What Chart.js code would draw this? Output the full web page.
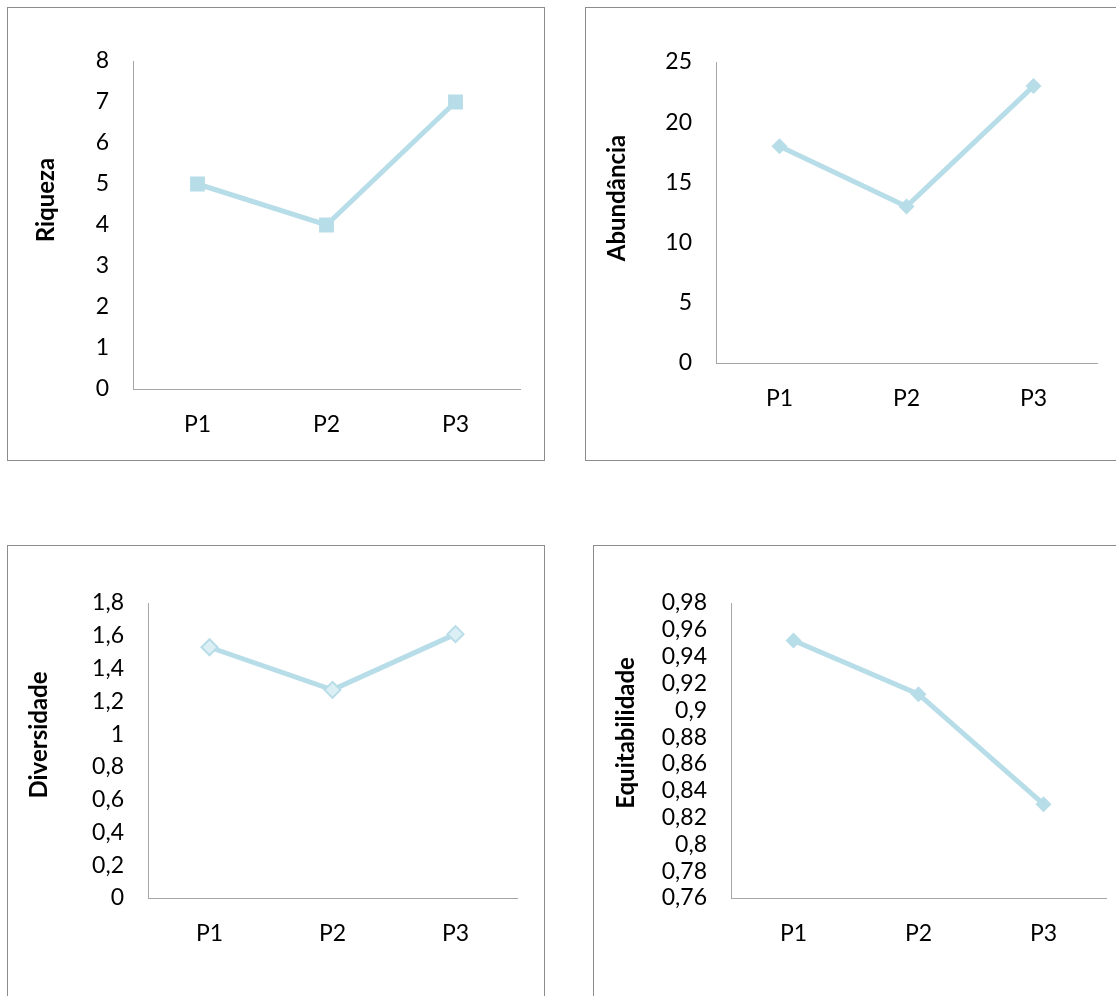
<!DOCTYPE html>
<html>
<head>
<meta charset="utf-8">
<script src="https://cdn.jsdelivr.net/npm/chart.js@4.4.1/dist/chart.umd.min.js"></script>
<style>
body { margin: 0; background: #fff; width: 1116px; height: 996px; overflow: hidden; position: relative; }
.box { position: absolute; border: 1px solid #8c8c8c; box-sizing: border-box; background: #fff; }
.box canvas { position: absolute; left: 0; top: 0; }
</style>
</head>
<body>
<div class="box" style="left:7px;top:7px;width:538px;height:454px"><canvas id="riqueza" width="536" height="452"></canvas></div>
<div class="box" style="left:585px;top:7px;width:535px;height:454px"><canvas id="abundancia" width="533" height="452"></canvas></div>
<div class="box" style="left:7px;top:545px;width:538px;height:466px"><canvas id="diversidade" width="536" height="464"></canvas></div>
<div class="box" style="left:593px;top:545px;width:527px;height:466px"><canvas id="equitabilidade" width="525" height="464"></canvas></div>
<script>
// pontos de coleta
const pontos = ["P1", "P2", "P3"]

const riqueza = [5, 4, 7]
const abundancia = [18, 13, 23]
const diversidade = [1.53, 1.27, 1.61]
const equitabilidade = [0.952, 0.912, 0.830]

const ticksRiqueza = [0, 1, 2, 3, 4, 5, 6, 7, 8]
const ticksAbundancia = [0, 5, 10, 15, 20, 25]
const ticksDiversidade = [0, 0.2, 0.4, 0.6, 0.8, 1, 1.2, 1.4, 1.6, 1.8]
const ticksEquitabilidade = [0.76, 0.78, 0.8, 0.82, 0.84, 0.86, 0.88, 0.9, 0.92, 0.94, 0.96, 0.98]

const azul = 'rgb(183, 221, 232)'
const azulClaro = 'rgb(220, 239, 244)'

Chart.defaults.font.family = 'Lato'
Chart.defaults.font.size = 23
Chart.defaults.color = '#000'

// titulo do eixo y desenhado na posicao do excel
const yTitle = {
    id: 'yTitle',
    afterDraw(chart, args, opts) {
        let ctx = chart.ctx
        ctx.save()
        ctx.translate(opts.x, opts.y)
        ctx.rotate(-Math.PI / 2)
        ctx.font = 'bold 24px Lato'
        ctx.fillStyle = '#000'
        ctx.textAlign = 'center'
        ctx.textBaseline = 'middle'
        ctx.fillText(opts.text, 0, 0)
        ctx.restore()
    }
}

function virgula(v) {
    return String(Number(v.toFixed(2))).replace('.', ',')
}

function grafico(id, valores, ticks, titulo, ponto, cfg) {
    new Chart(document.getElementById(id), {
        type: 'line',
        data: {
            labels: pontos,
            datasets: [{
                data: valores,
                borderColor: azul,
                borderWidth: 5,
                backgroundColor: ponto.fill,
                pointStyle: ponto.style,
                pointRadius: ponto.radius,
                pointBorderWidth: ponto.border,
                pointBorderColor: azul,
                pointBackgroundColor: ponto.fill,
                tension: 0
            }]
        },
        options: {
            responsive: false,
            animation: false,
            events: [],
            layout: { padding: { left: 0, top: cfg.top, right: cfg.right, bottom: cfg.bottom } },
            plugins: {
                legend: { display: false },
                tooltip: { enabled: false },
                yTitle: { text: titulo, x: cfg.tx, y: cfg.ty }
            },
            scales: {
                x: {
                    offset: true,
                    grid: { display: false, drawTicks: false },
                    border: { color: '#a6a6a6', width: 1 },
                    ticks: { padding: 22 },
                    afterFit: s => { s.height = 60 }
                },
                y: {
                    min: ticks[0],
                    max: ticks[ticks.length - 1],
                    grid: { display: false, drawTicks: false },
                    border: { color: '#a6a6a6', width: 1 },
                    ticks: { padding: 24, autoSkip: false, callback: v => virgula(v) },
                    afterBuildTicks: s => { s.ticks = ticks.map(v => ({ value: v })) },
                    afterFit: s => { s.width = cfg.yw }
                }
            }
        },
        plugins: [yTitle]
    })
}

grafico('riqueza', riqueza, ticksRiqueza, 'Riqueza',
    { style: 'rect', radius: 10.5, border: 0, fill: azul },
    { top: 53, right: 24, bottom: 11, yw: 125, tx: 38, ty: 192 })

grafico('abundancia', abundancia, ticksAbundancia, 'Abundância',
    { style: 'rectRot', radius: 8, border: 0, fill: azul },
    { top: 54, right: 22, bottom: 37, yw: 130, tx: 31, ty: 190 })

grafico('diversidade', diversidade, ticksDiversidade, 'Diversidade',
    { style: 'rectRot', radius: 8, border: 2, fill: azulClaro },
    { top: 57, right: 27, bottom: 52, yw: 140, tx: 31, ty: 189 })

grafico('equitabilidade', equitabilidade, ticksEquitabilidade, 'Equitabilidade',
    { style: 'rectRot', radius: 8, border: 0, fill: azul },
    { top: 57, right: 13, bottom: 52, yw: 137, tx: 32, ty: 187 })
</script>
</body>
</html>
